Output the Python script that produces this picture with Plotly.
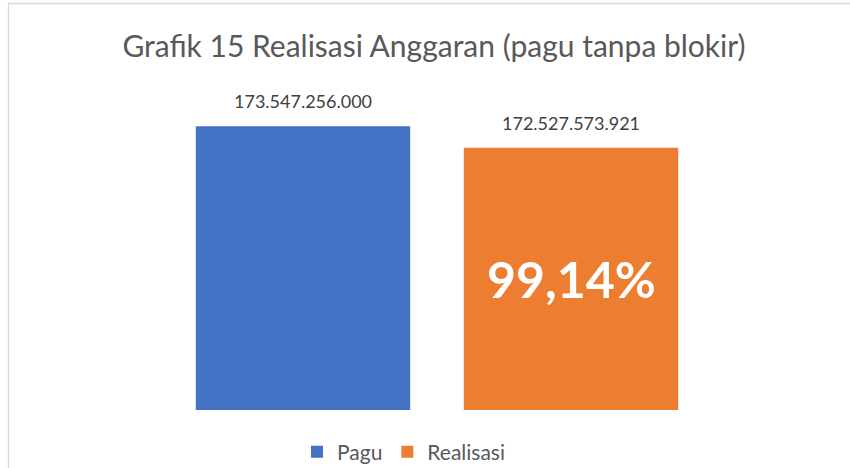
import plotly.graph_objects as go

# Budget ceiling vs. realised spending
series = ["Pagu", "Realisasi"]
values = [173547256000, 172527573921]
value_labels = ["173.547.256.000", "172.527.573.921"]
colors = ["#4472C4", "#ED7D31"]
realisasi_pct_label = "99,14%"

title_text = "Grafik 15 Realisasi Anggaran (pagu tanpa blokir)"
y_min, y_max = 160e9, 176e9

FONT = "Lato, 'Open Sans', sans-serif"

fig = go.Figure()
for name, val, col in zip(series, values, colors):
    fig.add_trace(go.Bar(
        x=[name], y=[val], name=name,
        marker=dict(color=col, line=dict(width=0)),
        hoverinfo="skip",
    ))

# Value labels above each bar
for name, val, lab in zip(series, values, value_labels):
    fig.add_annotation(
        x=name, y=val, text=lab, showarrow=False,
        yanchor="bottom", yshift=12,
        font=dict(family=FONT, size=18, color="#404040"),
    )

# Percentage inside the realisation bar
fig.add_annotation(
    x=series[1], y=(y_min + values[1]) / 2, text=realisasi_pct_label,
    showarrow=False, yanchor="middle",
    font=dict(family=FONT, size=50, color="white", weight="bold"),
)

# Light chart-area border (only the top and left edges fall inside the view)
fig.add_shape(
    type="rect", xref="paper", yref="paper",
    x0=(8.5 - 169) / 536, x1=(950 - 169) / 536,
    y0=(410 - 560) / 335, y1=(410 - 3.5) / 335,
    line=dict(color="#D9D9D9", width=1.3), fillcolor="rgba(0,0,0,0)",
    layer="below",
)

fig.update_layout(
    width=850, height=468,
    margin=dict(l=169, r=145, t=75, b=58, autoexpand=False),
    paper_bgcolor="white", plot_bgcolor="white",
    barmode="overlay", bargap=0.2,
    title=dict(
        text=title_text, x=434 / 850, xanchor="center",
        y=1 - 46 / 468, yanchor="middle",
        font=dict(family=FONT, size=30, color="#595959"),
    ),
    xaxis=dict(visible=False, range=[-0.5, 1.5]),
    yaxis=dict(visible=False, range=[y_min, y_max]),
    showlegend=True,
    legend=dict(
        orientation="h", x=(404 - 169) / 536, xanchor="center",
        y=(410 - 452) / 335, yanchor="middle",
        font=dict(family=FONT, size=21, color="#595959"),
        itemwidth=30, traceorder="normal",
    ),
)

fig.write_html("out.html")
